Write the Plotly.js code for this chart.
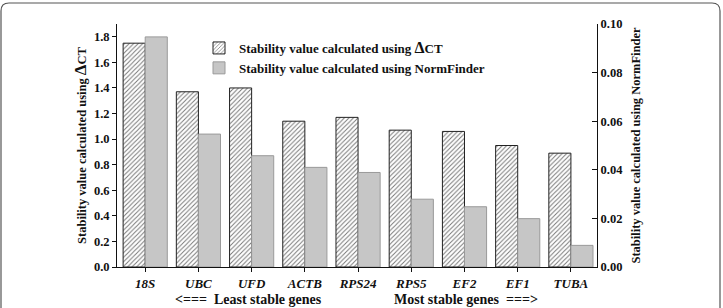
<!DOCTYPE html>
<html>
<head>
<meta charset="utf-8">
<script src="https://cdn.plot.ly/plotly-3.0.1.min.js"></script>
<style>html,body{margin:0;padding:0;background:#fff;}#chart{width:723px;height:308px;}</style>
</head>
<body>
<div id="chart"></div>
<script>
// Data
const genes = ["18S", "UBC", "UFD", "ACTB", "RPS24", "RPS5", "EF2", "EF1", "TUBA"];
const deltaCT = [1.75, 1.37, 1.40, 1.14, 1.17, 1.07, 1.06, 0.95, 0.89];
const normFinder = [0.0947, 0.0547, 0.0458, 0.0410, 0.0389, 0.0279, 0.0248, 0.0199, 0.0089];
const leftTicks = [0, 0.2, 0.4, 0.6, 0.8, 1.0, 1.2, 1.4, 1.6, 1.8];
const rightTicks = [0, 0.02, 0.04, 0.06, 0.08, 0.10];
const seriesNames = ["Stability value calculated using <span style='font-size:16px'>Δ</span>CT",
                     "Stability value calculated using NormFinder"];

const W = 723, H = 308;
const M = {l: 117, r: 126, t: 24, b: 41};
const pw = W - M.l - M.r, ph = H - M.t - M.b;
const fx = p => (p - M.l) / pw;
const fy = p => (H - M.b - p) / ph;

const serif = "Liberation Serif, Times New Roman, serif";
const bw = 0.415;

const traces = [
  {
    type: "bar", name: seriesNames[0], x: genes, y: deltaCT, yaxis: "y",
    width: bw, offset: -bw,
    marker: {color: "#ffffff", line: {color: "#222", width: 1},
             pattern: {shape: "/", fgcolor: "#777", bgcolor: "#ffffff", size: 3.2, solidity: 0.3}}
  },
  {
    type: "bar", name: seriesNames[1], x: genes, y: normFinder, yaxis: "y2",
    width: bw, offset: 0,
    marker: {color: "#c6c6c6", line: {color: "#9a9a9a", width: 1}}
  }
];

// rounded frame path (pixel -> paper)
const x0 = 1, x1 = 720, yTop = 3, yBot = 309, r = 8;
const framePath = `M ${fx(x0)},${fy(yBot)} L ${fx(x0)},${fy(yTop + r)} Q ${fx(x0)},${fy(yTop)} ${fx(x0 + r)},${fy(yTop)} ` +
  `L ${fx(x1 - r)},${fy(yTop)} Q ${fx(x1)},${fy(yTop)} ${fx(x1)},${fy(yTop + r)} L ${fx(x1)},${fy(yBot)}`;

const layout = {
  width: W, height: H,
  margin: M,
  paper_bgcolor: "#fff", plot_bgcolor: "#fff",
  font: {family: serif, color: "#111", size: 12, weight: "bold"},
  showlegend: true,
  legend: {x: fx(199), y: fy(33), xanchor: "left", yanchor: "top",
           bgcolor: "rgba(0,0,0,0)", font: {family: serif, size: 13, weight: "bold", color: "#111"},
           tracegroupgap: 0, itemwidth: 30},
  xaxis: {
    range: [-0.53, 8.49], showline: true, linecolor: "#111", linewidth: 1,
    ticks: "outside", ticklen: 4, tickcolor: "#111", showgrid: false, zeroline: false,
    tickfont: {family: serif, size: 13, weight: "bold", style: "italic", color: "#111"},
    fixedrange: true
  },
  yaxis: {
    range: [0, 1.9], tickvals: leftTicks, tickformat: ".1f",
    showline: true, linecolor: "#111", linewidth: 1, ticks: "outside", ticklen: 4, tickcolor: "#111",
    showgrid: false, zeroline: false,
    tickfont: {family: serif, size: 12.5, weight: "bold", color: "#111"},
    title: {text: "Stability value calculated using <span style='font-size:17px'>Δ</span>CT",
            font: {family: serif, size: 12.5, weight: "bold", color: "#111"}, standoff: 4}
  },
  yaxis2: {
    range: [0, 0.1], tickvals: rightTicks, tickformat: ".2f", overlaying: "y", side: "right",
    showline: true, linecolor: "#111", linewidth: 1, ticks: "inside", ticklen: 5, tickcolor: "#111",
    showgrid: false, zeroline: false,
    tickfont: {family: serif, size: 12.5, weight: "bold", color: "#111"},
    title: {text: "Stability value calculated using NormFinder",
            font: {family: serif, size: 12.5, weight: "bold", color: "#111"}, standoff: 9}
  },
  annotations: [
    {text: "&lt;===  Least stable genes", xref: "paper", yref: "paper", x: fx(248), y: fy(299.5),
     showarrow: false, xanchor: "center", yanchor: "middle",
     font: {family: serif, size: 14, weight: "bold", color: "#111"}},
    {text: "Most stable genes  ===&gt;", xref: "paper", yref: "paper", x: fx(466), y: fy(299.5),
     showarrow: false, xanchor: "center", yanchor: "middle",
     font: {family: serif, size: 14, weight: "bold", color: "#111"}}
  ],
  shapes: [
    {type: "path", xref: "paper", yref: "paper", path: framePath,
     line: {color: "#555", width: 1.2}, layer: "below"}
  ]
};

Plotly.newPlot("chart", traces, layout, {displayModeBar: false, staticPlot: true});
</script>
</body>
</html>
